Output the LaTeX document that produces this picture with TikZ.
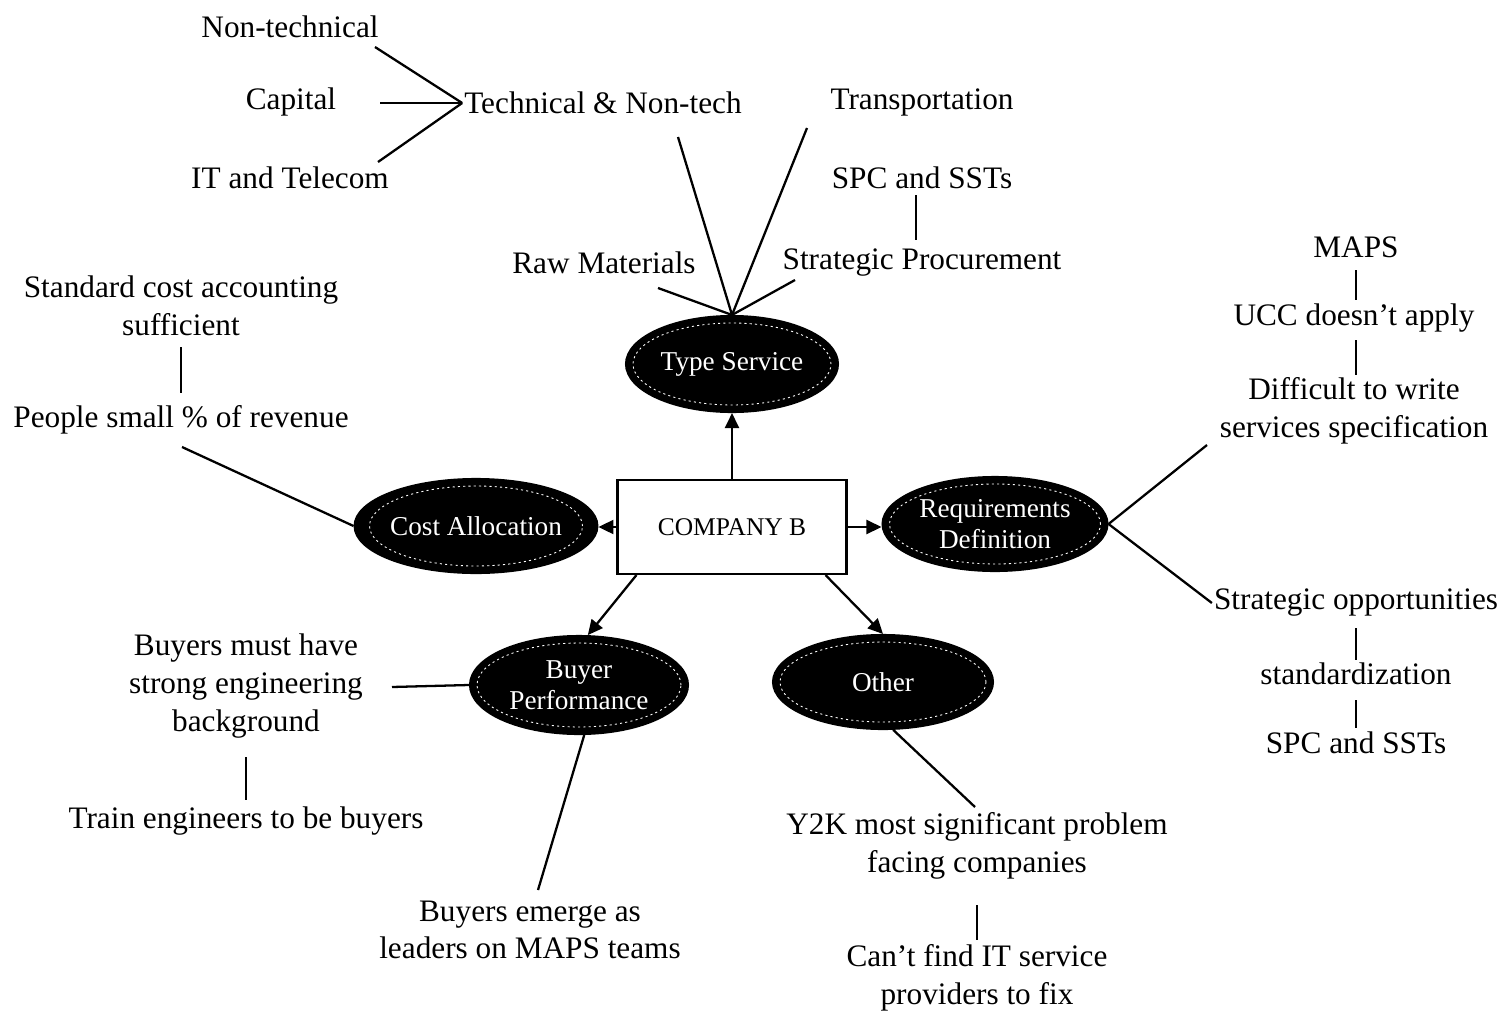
\documentclass[tikz,border=0pt]{standalone}
\usepackage{fontspec}
\setmainfont{Liberation Serif}
\usetikzlibrary{shapes.geometric,arrows.meta,calc}
\begin{document}
\begin{tikzpicture}[x=0.02cm,y=-0.02cm,
  lbl/.style={font=\fontsize{17.8}{21.5}\selectfont, align=center, inner sep=1pt},
  topic/.style={ellipse, fill=black, draw=black, line width=1.2pt, inner sep=0pt,
    text=white, align=center, font=\fontsize{15.5}{17.5}\selectfont},
  ring/.style={white, line width=0.5pt, dash pattern=on 1.2pt off 1.8pt},
  link/.style={line width=1.3pt},
  arr/.style={line width=1.3pt, -{Triangle[length=0.3cm,width=0.28cm]}},
]
% page background and extent
\fill[white] (0,0) rectangle (1511,1021);

% central box
\node[draw, line width=1.2pt, minimum width=4.58cm, minimum height=1.88cm,
  font=\fontsize{14.5}{17}\selectfont] (co) at (732,527) {COMPANY B};

% topic ellipses
\node[topic, minimum width=4.24cm, minimum height=1.92cm] (ts) at (732,364) {Type Service};
\node[topic, minimum width=4.54cm, minimum height=1.88cm] (ca) at (476,526) {Cost Allocation};
\node[topic, minimum width=4.50cm, minimum height=1.88cm] (rd) at (995,524) {Requirements\\Definition};
\node[topic, minimum width=4.36cm, minimum height=1.96cm] (bp) at (579,685) {Buyer\\Performance};
\node[topic, minimum width=4.40cm, minimum height=1.88cm] (ot) at (883,682) {Other};

% faint inner rings of the ellipses
\draw[ring] (ts.center) ellipse [x radius=1.98cm, y radius=0.82cm];
\draw[ring] (ca.center) ellipse [x radius=2.13cm, y radius=0.80cm];
\draw[ring] (rd.center) ellipse [x radius=2.11cm, y radius=0.80cm];
\draw[ring] (bp.center) ellipse [x radius=2.04cm, y radius=0.84cm];
\draw[ring] (ot.center) ellipse [x radius=2.06cm, y radius=0.80cm];

% text labels
\node[lbl] (nt) at (290,27) {Non-technical};
\node[lbl] (cap) at (291,102) {Capital};
\node[lbl] (it) at (290,178) {IT and Telecom};
\node[lbl] (tn) at (603,103) {Technical \& Non-tech};
\node[lbl] (tr) at (922,102) {Transportation};
\node[lbl] (spc1) at (922,178) {SPC and SSTs};
\node[lbl] (sp) at (922,263) {Strategic Procurement};
\node[lbl] (rm) at (604,263) {Raw Materials};
\node[lbl] (sca) at (181,306) {Standard cost accounting\\sufficient};
\node[lbl] (psr) at (181,420) {People small \% of revenue};
\node[lbl] (bm) at (246,686) {Buyers must have\\strong engineering\\background};
\node[lbl] (te) at (246,821) {Train engineers to be buyers};
\node[lbl] (be) at (530,930) {Buyers emerge as\\leaders on MAPS teams};
\node[lbl] (y2k) at (977,846) {Y2K most significant problem\\facing companies};
\node[lbl] (cf) at (977,978) {Can’t find IT service\\providers to fix};
\node[lbl] (maps) at (1356,247) {MAPS};
\node[lbl] (ucc) at (1354,318) {UCC doesn’t apply};
\node[lbl] (dw) at (1354,411) {Difficult to write\\services specification};
\node[lbl] (so) at (1356,603) {Strategic opportunities};
\node[lbl] (std) at (1356,674) {standardization};
\node[lbl] (spc2) at (1356,743) {SPC and SSTs};

% arrows out of the central box
\draw[arr] (co.north) -- (ts.south);
\draw[arr] (co.west) -- (co.west -| ca.east);
\draw[arr] (co.east) -- (co.east -| rd.west);
\draw[arr] ($(co.south west)+(20,0)$) -- (bp.80);
\draw[arr] ($(co.south east)+(-22,0)$) -- (ot.north);

% kinds of capital
\draw[link] ($(nt.center)+(85,20)$) -- (tn.west);
\draw[link] ($(cap.center)+(89,1)$) -- (tn.west);
\draw[link] ($(it.center)+(88,-16)$) -- (tn.west);

% type of service
\draw[link] ($(tn.center)+(75,34)$) -- (ts.north);
\draw[link] ($(tr.center)+(-115,26)$) -- (ts.north);
\draw[link] ($(rm.center)+(54,25)$) -- (ts.north);
\draw[link] ($(sp.center)+(-127,17)$) -- (ts.north);
\draw[link] ($(spc1.center)+(-6,17)$) -- ($(sp.center)+(-6,-23)$);

% cost allocation
\draw[link] ($(sca.center)+(0,41)$) -- ($(psr.center)+(0,-27)$);
\draw[link] ($(psr.center)+(1,27)$) -- (ca.west);

% buyer performance
\draw[link] ($(bm.center)+(146,1)$) -- (bp.west);
\draw[link] ($(bm.center)+(0,71)$) -- ($(te.center)+(0,-21)$);
\draw[link] (bp.-84) -- ($(be.center)+(8,-40)$);

% other
\draw[link] (ot.-78) -- ($(y2k.center)+(-2,-39)$);
\draw[link] ($(y2k.center)+(0,59)$) -- ($(cf.center)+(0,-38)$);

% requirements definition
\draw[link] (rd.east) -- ($(dw.center)+(-147,34)$);
\draw[link] (rd.east) -- (so.west);
\draw[link] ($(maps.center)+(0,23)$) -- ($(ucc.center)+(2,-18)$);
\draw[link] ($(ucc.center)+(2,22)$) -- ($(dw.center)+(2,-36)$);
\draw[link] ($(so.center)+(0,25)$) -- ($(std.center)+(0,-14)$);
\draw[link] ($(std.center)+(0,26)$) -- ($(spc2.center)+(0,-15)$);
\end{tikzpicture}
\end{document}
